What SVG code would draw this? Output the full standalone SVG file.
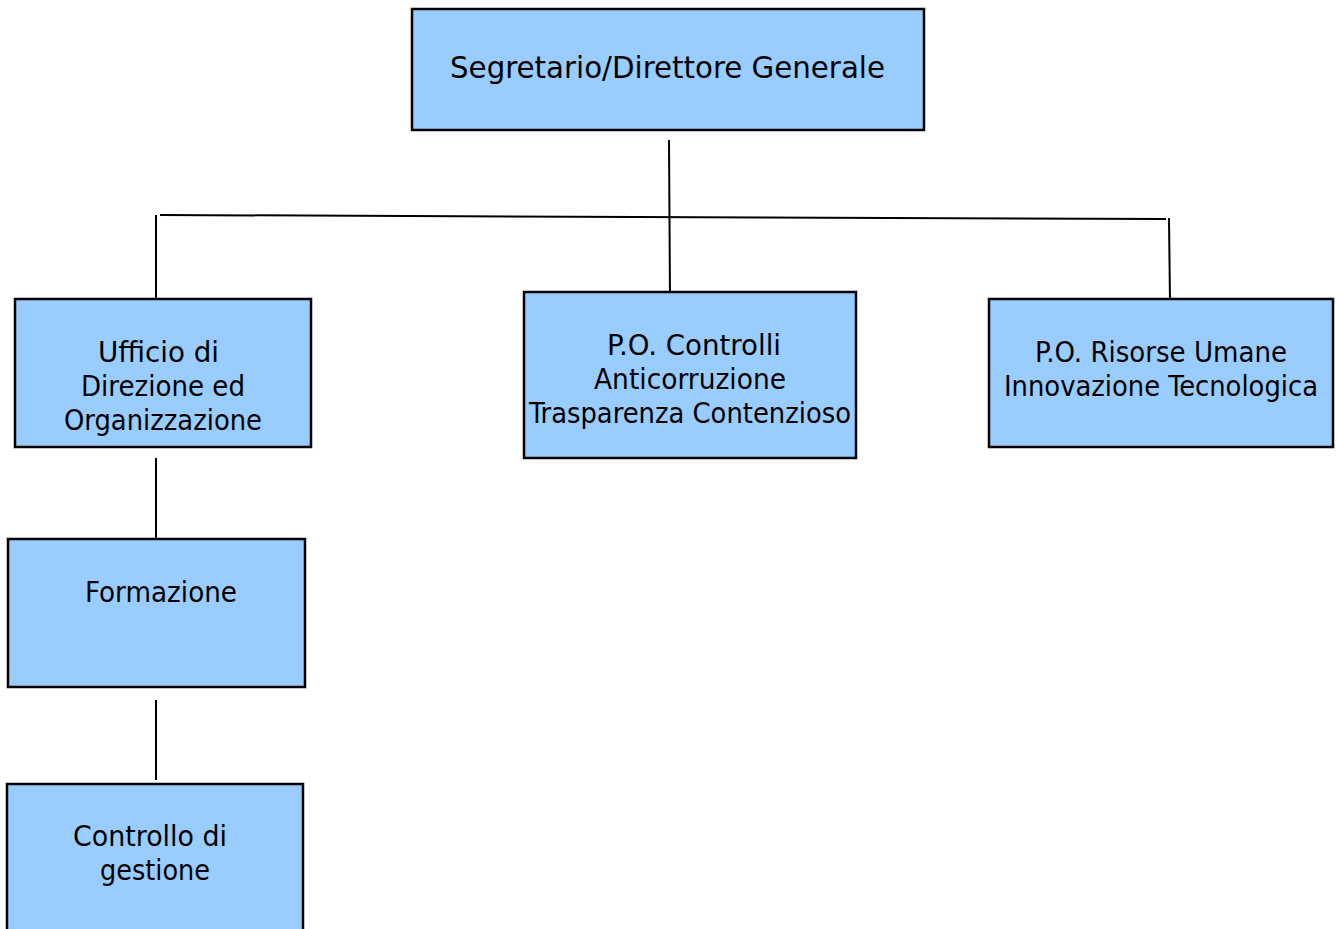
<svg xmlns="http://www.w3.org/2000/svg" width="1337" height="929" viewBox="0 0 1337 929">
<style>
.box{fill:#99ccff;stroke:#000;stroke-width:2.5}
.t{font-family:"DejaVu Sans Condensed","DejaVu Sans","Liberation Sans",sans-serif;font-size:28px;fill:#000}
.c{stroke:#000;stroke-width:2;fill:none}
</style>
<rect width="1337" height="929" fill="#fff"/>
<g id="connectors">
<line class="c" x1="669" y1="140" x2="670" y2="299"/>
<line class="c" x1="160" y1="215" x2="1166" y2="219"/>
<line class="c" x1="156" y1="215" x2="156" y2="298"/>
<line class="c" x1="1169" y1="218" x2="1170" y2="302"/>
<line class="c" x1="156" y1="458" x2="156" y2="538"/>
<line class="c" x1="156" y1="700" x2="156" y2="780"/>
</g>
<g id="n-segretario">
<rect class="box" x="412" y="9" width="512" height="121"/>
<text class="t" x="450" y="78" style="font-size:30px" textLength="435" lengthAdjust="spacingAndGlyphs">Segretario/Direttore Generale</text>
</g>
<g id="n-ufficio">
<rect class="box" x="15" y="299" width="296" height="148"/>
<text class="t" x="98" y="362" textLength="121" lengthAdjust="spacingAndGlyphs">Ufficio di</text>
<text class="t" x="81" y="396" textLength="164" lengthAdjust="spacingAndGlyphs">Direzione ed</text>
<text class="t" x="64" y="430" textLength="198" lengthAdjust="spacingAndGlyphs">Organizzazione</text>
</g>
<g id="n-controlli">
<rect class="box" x="524" y="292" width="332" height="166"/>
<text class="t" x="607" y="355" textLength="174" lengthAdjust="spacingAndGlyphs">P.O. Controlli</text>
<text class="t" x="594" y="389" textLength="192" lengthAdjust="spacingAndGlyphs">Anticorruzione</text>
<text class="t" x="529" y="423" textLength="322" lengthAdjust="spacingAndGlyphs">Trasparenza Contenzioso</text>
</g>
<g id="n-risorse">
<rect class="box" x="989" y="299" width="344" height="148"/>
<text class="t" x="1035" y="362" textLength="252" lengthAdjust="spacingAndGlyphs">P.O. Risorse Umane</text>
<text class="t" x="1004" y="396" textLength="314" lengthAdjust="spacingAndGlyphs">Innovazione Tecnologica</text>
</g>
<g id="n-formazione">
<rect class="box" x="8" y="539" width="297" height="148"/>
<text class="t" x="85" y="602" textLength="152" lengthAdjust="spacingAndGlyphs">Formazione</text>
</g>
<g id="n-controllo">
<rect class="box" x="7" y="784" width="296" height="160"/>
<text class="t" x="73" y="846" textLength="154" lengthAdjust="spacingAndGlyphs">Controllo di</text>
<text class="t" x="100" y="880" textLength="110" lengthAdjust="spacingAndGlyphs">gestione</text>
</g>
</svg>
